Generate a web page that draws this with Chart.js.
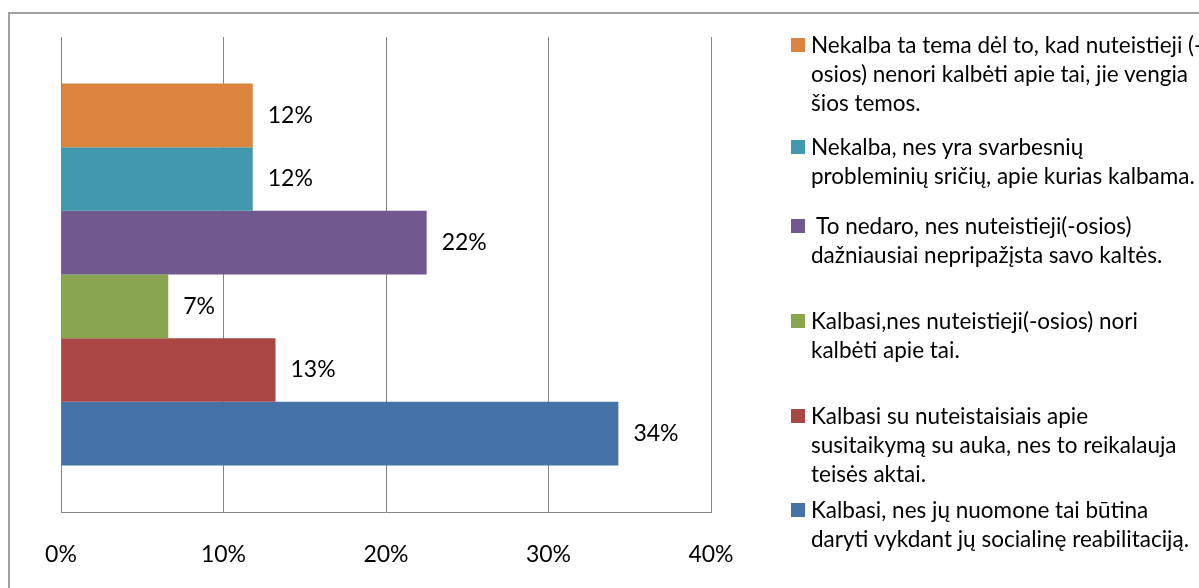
<!DOCTYPE html>
<html>
<head>
<meta charset="utf-8">
<script src="https://cdn.jsdelivr.net/npm/chart.js@4.4.0/dist/chart.umd.min.js"></script>
<style>
  body { margin: 0; background: #fff; }
  #wrap { position: relative; width: 1199px; height: 588px; overflow: hidden; font-family: Lato, "Open Sans", sans-serif; }
  #frame { position: absolute; left: 8px; top: 12px; width: 1300px; height: 700px; border-left: 2px solid #a0a0a0; border-top: 2px solid #a0a0a0; }
  #chart { position: absolute; left: 0; top: 0; }
  .item { position: absolute; left: 791px; }
  .box { position: absolute; left: 0; width: 14px; height: 14px; }
  .txt { position: absolute; left: 20px; white-space: pre; font-size: 22.5px; line-height: 29px; color: #000; }
</style>
</head>
<body>
<div id="wrap">
  <div id="frame"></div>
  <canvas id="chart" width="1199" height="588"></canvas>
  <div id="legend"></div>
</div>
<script>
// answer categories (legend text, top bar first)
const categories = [
    "Nekalba ta tema dėl to, kad nuteistieji (-\nosios) nenori kalbėti apie tai, jie vengia\nšios temos.",
    "Nekalba, nes yra svarbesnių\nprobleminių sričių, apie kurias kalbama.",
    " To nedaro, nes nuteistieji(-osios)\ndažniausiai nepripažįsta savo kaltės.",
    "Kalbasi,nes nuteistieji(-osios) nori\nkalbėti apie tai.",
    "Kalbasi su nuteistaisiais apie\nsusitaikymą su auka, nes to reikalauja\nteisės aktai.",
    "Kalbasi, nes jų nuomone tai būtina\ndaryti vykdant jų socialinę reabilitaciją."
];
const values = [11.8, 11.8, 22.5, 6.6, 13.2, 34.3];
const valueLabels = ["12%", "12%", "22%", "7%", "13%", "34%"];
const colors = ["#DB843D", "#4198AF", "#71588F", "#89A54E", "#AA4643", "#4572A7"];
const tickValues = [0, 10, 20, 30, 40];

// legend marker tops (layout only)
const legendTops = [38, 140, 219, 314, 409, 503];

const legendEl = document.getElementById("legend");
categories.forEach((txt, i) => {
    const item = document.createElement("div");
    item.className = "item";
    item.style.top = legendTops[i] + "px";
    const box = document.createElement("div");
    box.className = "box";
    box.style.background = colors[i];
    const t = document.createElement("div");
    t.className = "txt";
    t.style.top = "-8px";
    t.textContent = txt;
    item.appendChild(box);
    item.appendChild(t);
    legendEl.appendChild(item);
});

// value labels right of each bar
const barLabels = {
    id: "barLabels",
    afterDatasetsDraw(chart) {
        const ctx = chart.ctx;
        ctx.save();
        ctx.font = "23px Lato, 'Open Sans', sans-serif";
        ctx.fillStyle = "#000";
        ctx.textBaseline = "middle";
        chart.data.datasets.forEach((ds, i) => {
            const bar = chart.getDatasetMeta(i).data[0];
            ctx.fillText(valueLabels[i], bar.x + 15, bar.y);
        });
        ctx.restore();
    }
};

const ctx = document.getElementById("chart").getContext("2d");
new Chart(ctx, {
    type: "bar",
    data: {
        labels: [""],
        datasets: categories.map((c, i) => ({
            label: c,
            data: [values[i]],
            backgroundColor: colors[i],
            borderWidth: 0
        }))
    },
    options: {
        indexAxis: "y",
        responsive: false,
        animation: false,
        layout: { padding: { left: 61, top: 37, right: 488, bottom: 0 } },
        datasets: { bar: { categoryPercentage: 0.804, barPercentage: 1 } },
        plugins: { legend: { display: false }, tooltip: { enabled: false } },
        scales: {
            x: {
                min: 0,
                max: 40,
                afterBuildTicks: (axis) => { axis.ticks = tickValues.map(v => ({ value: v })); },
                afterFit: (axis) => { axis.height = 76; },
                grid: { color: "#868686", drawTicks: false },
                border: { color: "#868686" },
                ticks: {
                    padding: 29,
                    color: "#000",
                    font: { size: 23, family: "Lato, 'Open Sans', sans-serif" },
                    callback: (v) => v + "%"
                }
            },
            y: {
                grid: { display: false },
                border: { color: "#868686" },
                ticks: { display: false },
                afterFit: (axis) => { axis.width = 0; }
            }
        }
    },
    plugins: [barLabels]
});
</script>
</body>
</html>
